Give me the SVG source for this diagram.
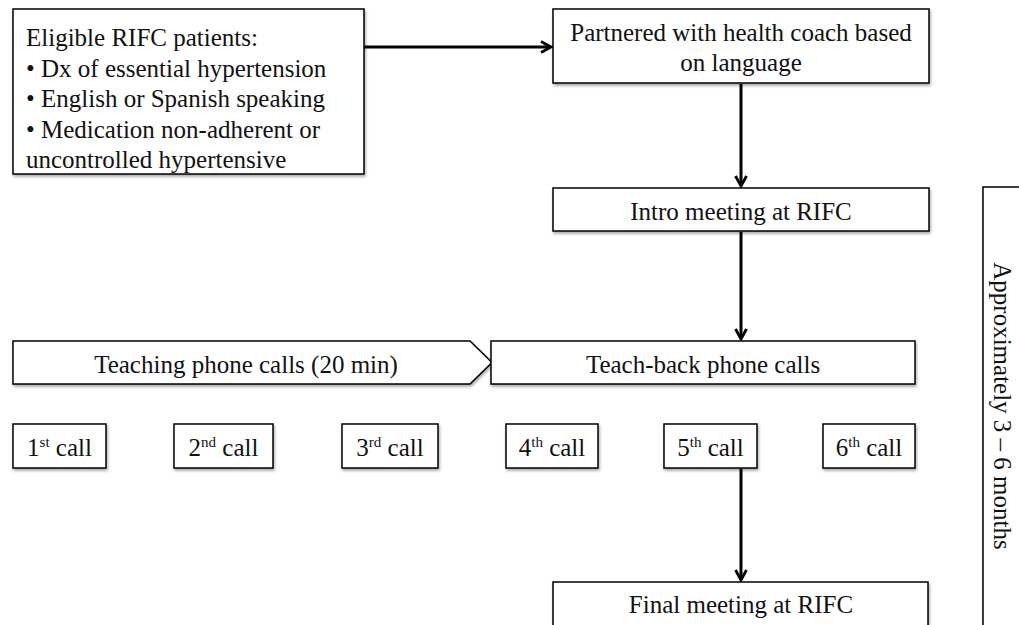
<svg xmlns="http://www.w3.org/2000/svg" width="1019" height="625" viewBox="0 0 1019 625" font-family="Liberation Serif, DejaVu Serif, serif">
<defs>
<filter id="sh" x="-5%" y="-5%" width="115%" height="130%">
<feGaussianBlur in="SourceAlpha" stdDeviation="1.5"/>
<feOffset dx="1" dy="2" result="b"/>
<feComponentTransfer><feFuncA type="linear" slope="0.35"/></feComponentTransfer>
<feMerge><feMergeNode/><feMergeNode in="SourceGraphic"/></feMerge>
</filter>
<marker id="ah" viewBox="0 0 14 14" refX="12" refY="7" markerWidth="14" markerHeight="14" markerUnits="userSpaceOnUse" orient="auto">
<path d="M2,1.5 L12,7 L2,12.5" fill="none" stroke="#000" stroke-width="2.8" stroke-linejoin="miter"/>
</marker>
</defs>
<style>
.box{fill:#fff;stroke:#000;stroke-width:1.5;filter:url(#sh)}
text{font-family:'Liberation Serif',serif;font-size:25px;fill:#111}
.c{text-anchor:middle}
.con{stroke:#000;stroke-width:3;fill:none;marker-end:url(#ah)}
.sup{font-size:15px}
</style>
<rect width="1019" height="625" fill="#fff"/>
<g id="connectors">
<line class="con" x1="364" y1="47" x2="551" y2="47"/>
<line class="con" x1="741" y1="84" x2="741" y2="186"/>
<line class="con" x1="741" y1="232" x2="741" y2="339"/>
<line class="con" x1="741" y1="469" x2="741" y2="580"/>
</g>
<g id="eligible">
<rect class="box" x="13" y="9" width="351" height="165"/>
<text x="26" y="46">Eligible RIFC patients:</text>
<text x="26" y="77">• Dx of essential hypertension</text>
<text x="26" y="107">• English or Spanish speaking</text>
<text x="26" y="138">• Medication non-adherent or</text>
<text x="26" y="168">uncontrolled hypertensive</text>
</g>
<g id="partnered">
<rect class="box" x="553" y="9" width="376" height="74"/>
<text class="c" x="741" y="41">Partnered with health coach based</text>
<text class="c" x="741" y="71">on language</text>
</g>
<g id="intro">
<rect class="box" x="553" y="188" width="376" height="43"/>
<text class="c" x="741" y="220">Intro meeting at RIFC</text>
</g>
<g id="teaching">
<path class="box" d="M13,341 L470,341 L492,362.5 L470,384 L13,384 Z"/>
<text class="c" x="246" y="373">Teaching phone calls (20 min)</text>
</g>
<g id="teachback">
<rect class="box" x="491" y="341" width="424" height="43"/>
<text class="c" x="703" y="373">Teach-back phone calls</text>
</g>
<g id="call1">
<rect class="box" x="13" y="424" width="93" height="44"/>
<text class="c" x="59.5" y="456">1<tspan class="sup" dy="-9">st</tspan><tspan dy="9"> call</tspan></text>
</g>
<g id="call2">
<rect class="box" x="174" y="424" width="99" height="44"/>
<text class="c" x="223.5" y="456">2<tspan class="sup" dy="-9">nd</tspan><tspan dy="9"> call</tspan></text>
</g>
<g id="call3">
<rect class="box" x="342" y="424" width="96" height="44"/>
<text class="c" x="390" y="456">3<tspan class="sup" dy="-9">rd</tspan><tspan dy="9"> call</tspan></text>
</g>
<g id="call4">
<rect class="box" x="506" y="424" width="92" height="44"/>
<text class="c" x="552" y="456">4<tspan class="sup" dy="-9">th</tspan><tspan dy="9"> call</tspan></text>
</g>
<g id="call5">
<rect class="box" x="664" y="424" width="93" height="44"/>
<text class="c" x="710.5" y="456">5<tspan class="sup" dy="-9">th</tspan><tspan dy="9"> call</tspan></text>
</g>
<g id="call6">
<rect class="box" x="823" y="424" width="92" height="44"/>
<text class="c" x="869" y="456">6<tspan class="sup" dy="-9">th</tspan><tspan dy="9"> call</tspan></text>
</g>
<g id="final">
<rect class="box" x="553" y="582" width="375" height="48"/>
<text class="c" x="741" y="613">Final meeting at RIFC</text>
</g>
<g id="duration">
<rect class="box" x="983" y="187" width="50" height="440"/>
<text class="c" transform="translate(994,406) rotate(90)">Approximately 3 – 6 months</text>
</g>
</svg>
